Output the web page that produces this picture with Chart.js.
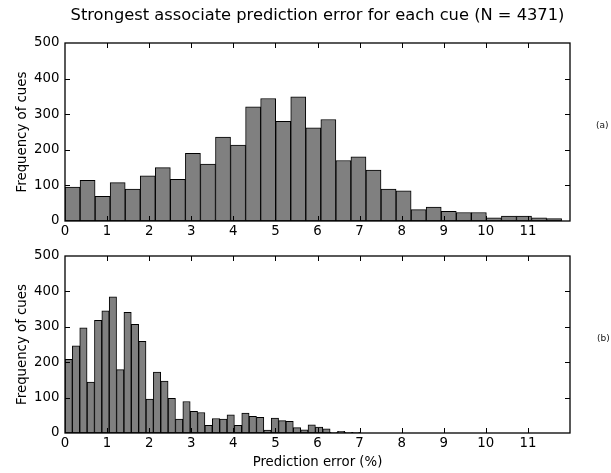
<!DOCTYPE html>
<html><head><meta charset="utf-8">
<script src="https://cdn.jsdelivr.net/npm/chart.js@4.4.1/dist/chart.umd.min.js"></script>
<style>
html,body{margin:0;padding:0;background:#fff;width:611px;height:473px;overflow:hidden;}
canvas{position:absolute;left:0;}
#c1{top:0}
#c2{top:240px}
</style></head><body>
<canvas id="c1" width="611" height="240"></canvas>
<canvas id="c2" width="611" height="233"></canvas>
<script>
const titleText = 'Strongest associate prediction error for each cue (N = 4371)';
const yAxisLabel = 'Frequency of cues';
const xAxisLabel = 'Prediction error (%)';
const panelLabels = ['(a)', '(b)'];
const xRange = [0, 12];
const yRange = [0, 500];
const yStep = 100;
const xStep = 1;

// histogram (a): 33 equal-width bins starting at 0
const topBinWidth = 0.3576;
const topCounts = [95,114,69,108,90,127,150,117,190,160,236,213,321,344,280,349,262,285,
                   170,180,143,90,85,32,39,27,24,24,9,14,14,9,7];
// histogram (b): 40 equal-width bins starting at 0
const bottomBinWidth = 0.175;
const bottomCounts = [208,246,297,144,318,345,385,179,341,307,259,96,172,147,98,39,89,61,58,22,
                      41,39,51,22,56,47,44,8,42,35,33,15,9,23,17,12,2,5,2,2];

const FONT = 'DejaVu Sans';
Chart.defaults.font.family = FONT;
Chart.defaults.color = '#000';

function binPoints(counts, w) {
  return counts.map((c, i) => ({x: (i + 0.5) * w, y: c}));
}

const framePlugin = {
  id: 'frame',
  afterDatasetsDraw(chart, args, opts) {
    const {ctx, chartArea: a, scales} = chart;
    const xs = scales.x, ys = scales.y;
    ctx.save();
    ctx.strokeStyle = '#000';
    ctx.lineWidth = 1;
    const tl = 5;
    ctx.beginPath();
    xs.ticks.forEach(t => {
      if (t.value <= xs.min || t.value >= xs.max) return;
      const px = Math.round(xs.getPixelForValue(t.value)) + 0.5;
      ctx.moveTo(px, a.bottom); ctx.lineTo(px, a.bottom - tl);
      ctx.moveTo(px, a.top); ctx.lineTo(px, a.top + tl);
    });
    ys.ticks.forEach(t => {
      if (t.value <= ys.min || t.value >= ys.max) return;
      const py = Math.round(ys.getPixelForValue(t.value)) + 0.5;
      ctx.moveTo(a.left, py); ctx.lineTo(a.left + tl, py);
      ctx.moveTo(a.right, py); ctx.lineTo(a.right - tl, py);
    });
    ctx.stroke();
    ctx.lineWidth = 1.3;
    ctx.strokeRect(a.left, a.top, a.right - a.left, a.bottom - a.top);
    ctx.fillStyle = '#111';
    ctx.font = '9px "' + FONT + '"';
    ctx.textBaseline = 'middle';
    ctx.textAlign = 'left';
    ctx.fillText(opts.label, opts.labelX, (a.top + a.bottom) / 2 + opts.labelDy);
    ctx.restore();
  }
};

function makeChart(id, counts, w, opts) {
  return new Chart(document.getElementById(id), {
    type: 'bar',
    data: {
      datasets: [{
        data: binPoints(counts, w),
        backgroundColor: 'rgb(128,128,128)',
        borderColor: '#000',
        borderWidth: 1,
        borderSkipped: false,
        barPercentage: 1,
        categoryPercentage: 1,
        grouped: false
      }]
    },
    options: {
      responsive: false,
      animation: false,
      events: [],
      layout: {padding: {top: opts.padTop, left: 24, right: 0, bottom: 0}},
      plugins: {
        legend: {display: false},
        tooltip: {enabled: false},
        title: opts.title ? {
          display: true, text: titleText, color: '#000',
          font: {family: FONT, size: 16.3, weight: 'normal', lineHeight: 1.2},
          padding: {top: 6, bottom: 17.44}
        } : {display: false},
        frame: {label: opts.label, labelX: opts.labelX, labelDy: opts.labelDy}
      },
      scales: {
        x: {
          type: 'linear', offset: false, min: xRange[0], max: xRange[1],
          grid: {display: false, drawTicks: false},
          border: {display: false},
          ticks: {stepSize: xStep, padding: 3, color: '#000', maxRotation: 0,
                  font: {family: FONT, size: 13.3},
                  callback: v => (v >= xRange[1] ? '' : v)},
          title: opts.xTitle ? {display: true, text: xAxisLabel, color: '#000',
                  font: {family: FONT, size: 13.3}, padding: {top: 0, bottom: 2}} : {display: false},
          afterFit: s => { s.height = opts.xHeight; }
        },
        y: {
          position: 'left', min: yRange[0], max: yRange[1],
          grid: {display: false, drawTicks: false},
          border: {display: false},
          ticks: {stepSize: yStep, padding: 5.5, color: '#000', font: {family: FONT, size: 13.3}},
          title: {display: true, text: yAxisLabel, color: '#000',
                  font: {family: FONT, size: 13.3}, padding: {top: -9, bottom: 0}},
          afterFit: s => { s.width = 41; }
        },
        y2: {
          position: 'right', display: true,
          grid: {display: false, drawTicks: false},
          border: {display: false},
          ticks: {display: false},
          afterFit: s => { s.width = 41; }
        }
      }
    },
    plugins: [framePlugin]
  });
}

makeChart('c1', topCounts, topBinWidth,
  {padTop: 0, title: true, xTitle: false, xHeight: 19, label: panelLabels[0], labelX: 596, labelDy: -6});
makeChart('c2', bottomCounts, bottomBinWidth,
  {padTop: 16, title: false, xTitle: true, xHeight: 40, label: panelLabels[1], labelX: 597, labelDy: -6});
</script>
</body></html>
